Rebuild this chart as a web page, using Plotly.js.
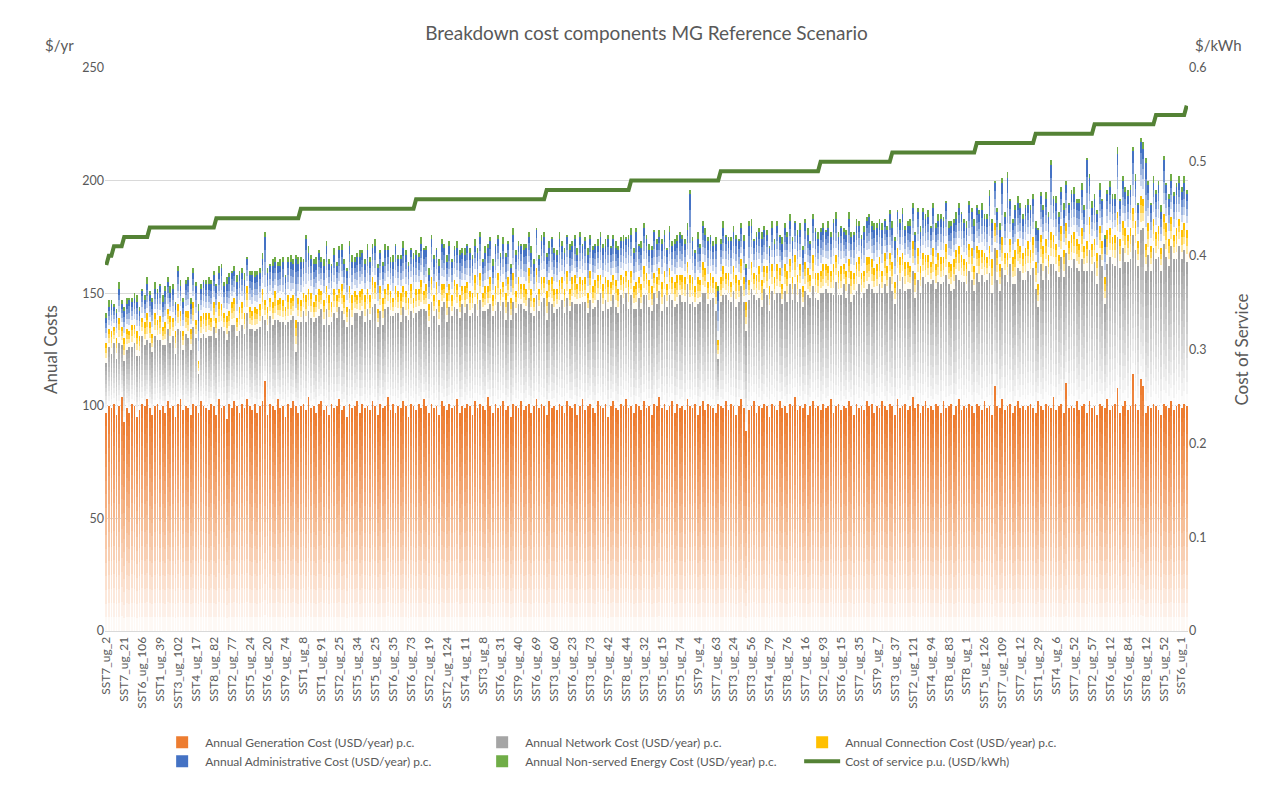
<!DOCTYPE html>
<html>
<head>
<meta charset="utf-8">
<script src="https://cdn.plot.ly/plotly-3.0.1.min.js"></script>
<style>html,body{margin:0;padding:0;background:#fff;}#chart{width:1273px;height:788px;}</style>
</head>
<body>
<div id="chart"></div>
<script>
// Tick labels shown on the category axis (every 7th category)
const tickLabels = ["SST7_ug_2","SST7_ug_21","SST6_ug_106","SST1_ug_39","SST3_ug_102","SST4_ug_17","SST8_ug_82","SST2_ug_77","SST5_ug_24","SST6_ug_20","SST9_ug_74","SST1_ug_8","SST1_ug_91","SST2_ug_25","SST5_ug_34","SST5_ug_25","SST6_ug_35","SST6_ug_73","SST2_ug_19",
"SST2_ug_124","SST4_ug_11","SST3_ug_8","SST6_ug_31","SST9_ug_40","SST6_ug_69","SST3_ug_60","SST6_ug_23","SST3_ug_73","SST9_ug_42","SST8_ug_44","SST3_ug_32","SST5_ug_15","SST5_ug_74","SST9_ug_4","SST7_ug_63","SST3_ug_24","SST3_ug_56","SST4_ug_79","SST8_ug_76",
"SST7_ug_16","SST2_ug_93","SST6_ug_15","SST7_ug_35","SST9_ug_7","SST3_ug_37","SST2_ug_121","SST4_ug_94","SST8_ug_83","SST8_ug_1","SST5_ug_126","SST7_ug_109","SST7_ug_12","SST1_ug_29","SST4_ug_6","SST7_ug_52","SST2_ug_57","SST6_ug_12","SST6_ug_84","SST8_ug_12","SST5_ug_52","SST6_ug_1"];
const tickEvery = 7;

const generation = [
97,100,99,101,96,100,104,93,99,97,101,100,95,98,101,100,103,99,96,100,
101,98,100,97,102,99,100,95,101,103,98,100,99,96,101,100,97,102,100,99,
98,101,100,96,103,99,100,94,101,99,102,100,97,101,99,103,100,98,101,97,
100,102,111,96,101,100,98,103,99,100,95,101,99,102,100,97,100,101,98,104,
99,100,97,101,102,98,100,96,101,99,100,103,98,100,95,101,99,100,102,97,
101,99,100,98,102,100,96,101,99,100,104,98,101,97,100,99,102,100,95,101,
100,98,101,99,103,100,97,101,99,100,96,102,100,98,101,99,100,103,97,100,
99,101,100,96,102,99,101,100,98,104,100,97,101,99,100,102,98,100,95,101,
100,99,102,98,100,101,97,100,103,99,101,100,96,102,99,100,98,101,100,97,
102,100,99,101,96,100,103,98,100,101,99,97,102,100,99,101,95,100,102,99,
98,101,100,103,99,100,97,101,100,98,102,99,100,96,101,100,104,99,101,98,
100,102,97,101,99,100,98,103,100,99,101,96,100,102,98,101,100,99,97,101,
100,99,102,98,101,100,96,100,103,99,89,98,100,102,97,100,99,101,100,95,
101,100,98,102,99,100,97,101,100,104,98,100,99,101,96,100,102,99,100,98,
101,99,100,103,97,100,101,98,100,99,102,100,96,101,99,100,98,102,100,101,
97,100,99,102,100,98,101,100,96,103,99,100,101,98,100,104,99,101,97,100,
102,99,100,98,101,100,97,102,99,100,101,96,100,103,98,100,99,101,100,97,
101,100,98,102,99,100,96,109,100,99,103,98,100,101,97,100,102,99,100,98,
100,101,99,97,102,100,98,101,100,99,104,98,100,101,97,110,99,100,99,102,
98,100,101,97,102,99,100,96,101,100,99,103,98,100,101,108,97,100,102,98,
100,114,101,98,112,109,97,100,99,101,100,98,96,101,100,99,102,98,100,101,
99,101,100];

const network = [
22,26,24,27,25,28,23,27,26,29,25,28,27,24,30,27,26,29,28,31,
28,31,27,30,32,29,31,28,33,30,27,32,31,29,34,30,17,28,32,31,
33,30,35,34,31,36,33,35,32,37,34,31,36,35,33,38,34,36,32,37,
35,38,27,37,39,36,40,35,38,37,41,36,39,38,24,40,37,41,39,38,
40,37,42,39,41,38,43,40,36,42,39,41,44,38,40,42,37,41,39,43,
41,38,43,40,42,45,39,41,37,43,40,42,39,44,41,38,42,40,43,41,
39,43,41,44,40,42,38,45,41,43,40,42,46,39,43,41,44,40,42,45,
42,44,40,45,43,41,46,42,44,39,45,43,41,47,42,44,40,46,43,45,
41,46,43,45,42,47,44,40,46,43,45,48,42,44,46,41,45,43,47,44,
46,42,47,44,49,45,43,48,41,46,44,47,45,50,43,46,48,44,47,45,
43,48,45,47,44,49,46,42,48,45,47,50,44,46,49,45,47,43,48,46,
49,45,47,44,50,46,48,51,45,47,43,49,46,48,52,44,47,49,45,20,
46,50,47,49,45,51,48,46,50,47,44,49,52,47,50,48,45,51,49,47,
50,47,52,48,46,51,49,53,47,50,48,52,45,50,53,48,51,49,47,52,
49,53,50,47,52,55,48,51,54,49,52,46,53,50,55,48,52,50,54,51,
53,50,55,48,54,52,56,51,49,55,53,57,50,54,52,56,49,55,53,57,
52,56,54,58,51,55,57,53,59,54,50,56,58,53,57,55,52,59,56,54,
58,55,60,53,57,59,54,61,56,52,58,60,55,62,57,54,59,61,56,58,
60,57,62,55,42,63,58,61,56,64,59,62,57,65,60,58,63,61,66,59,
62,65,59,63,67,61,64,58,66,62,46,60,68,63,61,67,64,70,62,66,
65,62,68,64,66,70,63,67,61,69,65,68,64,71,66,63,69,67,65,70,
66,68,64];

const connection = [
9,8,10,7,9,11,8,10,9,7,10,8,11,9,8,10,12,9,8,10,
9,11,8,10,9,12,8,10,11,9,8,10,12,9,11,8,6,10,9,11,
10,8,11,9,12,10,8,11,9,10,12,8,11,10,9,12,10,8,11,9,
10,12,9,11,8,10,13,9,11,10,8,12,10,9,14,11,10,8,12,10,
11,9,10,12,8,11,10,13,9,11,10,8,12,11,9,10,13,10,8,11,
10,12,9,11,13,10,8,11,12,9,10,11,8,12,10,13,9,11,10,12,
9,11,10,13,8,12,10,11,9,12,11,10,8,13,10,9,12,11,10,8,
12,10,11,9,13,10,12,8,11,10,12,9,11,13,10,9,12,11,10,13,
10,12,9,11,10,13,11,8,12,10,11,9,13,10,12,11,9,12,10,11,
12,10,11,13,9,12,10,11,9,13,10,12,11,8,12,10,13,11,9,12,
11,9,12,10,13,11,10,12,9,11,13,10,12,11,9,12,10,13,11,10,
12,10,11,13,9,12,11,10,13,11,9,12,10,14,11,10,12,9,13,8,
11,13,10,12,9,11,14,10,12,11,13,9,12,10,11,14,12,10,13,11,
12,10,13,11,9,12,14,11,10,13,12,11,9,13,12,10,14,11,12,10,
13,11,12,10,14,12,11,13,9,12,11,14,10,13,12,11,10,14,12,13,
11,13,12,10,14,12,11,13,10,12,14,11,13,12,10,13,11,14,12,11,
13,12,10,14,11,13,12,11,14,10,12,13,11,15,12,10,13,12,14,11,
12,14,11,13,10,12,15,11,13,12,14,10,13,11,12,15,13,11,12,14,
13,11,14,12,10,13,15,12,11,14,13,12,10,14,12,13,11,15,12,13,
12,14,11,13,15,12,10,14,13,11,12,15,13,12,14,11,13,12,15,12,
14,12,13,11,15,13,12,14,11,13,12,14,10,13,15,12,13,11,14,12,
13,12,14];

const administrative = [
11,10,12,9,11,13,10,12,11,14,10,12,13,11,12,10,13,12,14,11,
12,13,11,14,12,10,13,12,15,11,13,12,14,11,13,15,22,12,14,13,
13,15,12,14,13,16,12,14,15,13,12,16,14,13,15,12,14,16,13,15,
14,13,28,15,14,16,13,15,14,17,13,15,16,14,27,15,17,14,25,16,
15,17,14,16,13,15,18,14,16,15,13,17,15,14,16,18,15,13,17,15,
16,14,17,15,13,16,18,15,14,17,15,13,16,18,14,15,17,16,14,15,
17,15,14,16,18,15,13,17,16,14,15,18,16,14,17,15,13,16,18,15,
14,16,17,15,13,18,16,14,15,17,16,13,18,15,14,17,16,15,13,17,
16,14,17,15,18,14,16,15,17,13,16,18,15,14,17,16,15,18,14,16,
15,17,14,16,13,18,15,16,17,14,16,15,13,17,16,14,18,15,16,14,
17,15,16,14,18,16,15,22,14,16,17,15,13,16,18,15,14,17,16,15,
16,14,17,15,18,16,15,14,36,16,15,17,14,16,15,18,16,14,17,22,
15,17,16,14,18,15,16,17,14,16,15,24,16,14,17,15,18,16,14,17,
16,15,17,14,18,16,15,17,16,14,18,15,16,17,15,14,16,18,15,17,
16,14,17,15,18,16,15,17,14,16,18,15,17,16,14,15,17,16,18,15,
17,16,15,18,14,16,17,15,18,16,15,17,14,16,18,15,17,16,15,18,
16,17,15,18,16,14,17,16,18,15,17,16,14,17,18,16,15,17,16,18,
17,16,18,15,17,22,16,18,17,15,24,16,33,17,15,18,16,17,15,18,
16,18,17,15,24,17,16,18,17,30,16,18,17,15,18,17,16,18,17,16,
18,17,16,36,17,16,18,17,16,18,17,16,18,17,16,26,17,18,16,17,
17,25,18,16,24,22,36,17,18,16,17,18,16,24,17,18,16,17,18,16,
17,18,16];

const nonServed = [
2,3,2,1,2,3,2,2,3,1,2,2,3,2,1,2,3,2,2,3,
2,1,3,2,2,3,2,1,2,3,2,2,1,3,2,2,3,2,1,2,
3,2,2,1,3,2,2,3,2,1,2,3,2,2,3,1,2,2,3,2,
2,3,2,2,1,3,2,2,3,2,1,2,3,2,2,3,2,1,2,3,
2,2,3,1,2,3,2,2,1,3,2,2,3,2,1,2,3,2,2,3,
1,2,3,2,2,3,2,1,2,3,2,2,3,1,2,2,3,2,2,1,
3,2,2,3,1,2,3,2,2,1,3,2,2,3,2,1,2,3,2,2,
3,1,2,2,3,2,2,1,3,2,2,3,1,2,2,3,2,1,2,3,
2,2,1,3,2,2,3,2,1,2,3,2,2,3,1,2,2,3,2,2,
1,3,2,2,3,2,1,2,3,2,2,1,3,2,2,3,2,1,2,3,
2,2,3,1,2,3,2,2,1,3,2,2,3,2,1,2,3,2,2,1,
3,2,2,3,1,2,2,3,2,2,1,3,2,2,3,2,1,2,3,2,
2,3,1,2,2,3,2,1,2,3,2,2,3,1,2,2,3,2,2,1,
3,2,2,1,3,2,2,3,2,1,2,3,2,2,3,1,2,2,3,2,
2,1,3,2,2,3,2,1,2,2,3,2,1,3,2,2,3,2,1,2,
3,2,2,3,1,2,2,3,2,1,2,3,2,2,3,2,1,2,3,2,
2,3,1,2,2,3,2,2,1,3,2,2,3,2,1,2,3,2,2,3,
1,2,3,2,2,3,2,1,2,3,2,2,3,1,2,2,3,2,2,1,
3,2,2,3,1,2,2,3,2,2,1,3,2,2,3,2,1,2,3,2,
2,3,2,1,2,3,2,2,3,1,2,2,3,2,2,3,1,2,2,3,
2,2,3,1,2,3,2,2,1,3,2,2,3,2,1,2,3,2,2,3,
2,3,2];

const costOfService = [
0.39,
0.40,0.40,
0.41,0.41,0.41,0.41,
0.42,0.42,0.42,0.42,0.42,0.42,0.42,0.42,0.42,0.42,
0.43,0.43,0.43,0.43,0.43,0.43,0.43,0.43,0.43,0.43,0.43,0.43,0.43,0.43,0.43,0.43,0.43,0.43,0.43,0.43,0.43,0.43,0.43,0.43,0.43,0.43,
0.44,0.44,0.44,0.44,0.44,0.44,0.44,0.44,0.44,0.44,0.44,0.44,0.44,0.44,0.44,0.44,0.44,0.44,0.44,0.44,0.44,0.44,0.44,0.44,0.44,0.44,0.44,0.44,0.44,0.44,0.44,0.44,0.44,
0.45,0.45,0.45,0.45,0.45,0.45,0.45,0.45,0.45,0.45,0.45,0.45,0.45,0.45,0.45,0.45,0.45,0.45,0.45,0.45,0.45,0.45,0.45,0.45,0.45,0.45,0.45,0.45,0.45,0.45,0.45,0.45,0.45,0.45,0.45,0.45,0.45,0.45,0.45,0.45,0.45,0.45,0.45,0.45,0.45,
0.46,0.46,0.46,0.46,0.46,0.46,0.46,0.46,0.46,0.46,0.46,0.46,0.46,0.46,0.46,0.46,0.46,0.46,0.46,0.46,0.46,0.46,0.46,0.46,0.46,0.46,0.46,0.46,0.46,0.46,0.46,0.46,0.46,0.46,0.46,0.46,0.46,0.46,0.46,0.46,0.46,0.46,0.46,0.46,0.46,0.46,0.46,0.46,0.46,0.46,0.46,
0.47,0.47,0.47,0.47,0.47,0.47,0.47,0.47,0.47,0.47,0.47,0.47,0.47,0.47,0.47,0.47,0.47,0.47,0.47,0.47,0.47,0.47,0.47,0.47,0.47,0.47,0.47,0.47,0.47,0.47,0.47,0.47,0.47,
0.48,0.48,0.48,0.48,0.48,0.48,0.48,0.48,0.48,0.48,0.48,0.48,0.48,0.48,0.48,0.48,0.48,0.48,0.48,0.48,0.48,0.48,0.48,0.48,0.48,0.48,0.48,0.48,0.48,0.48,0.48,0.48,0.48,0.48,0.48,
0.49,0.49,0.49,0.49,0.49,0.49,0.49,0.49,0.49,0.49,0.49,0.49,0.49,0.49,0.49,0.49,0.49,0.49,0.49,0.49,0.49,0.49,0.49,0.49,0.49,0.49,0.49,0.49,0.49,0.49,0.49,0.49,0.49,0.49,0.49,0.49,0.49,0.49,0.49,
0.50,0.50,0.50,0.50,0.50,0.50,0.50,0.50,0.50,0.50,0.50,0.50,0.50,0.50,0.50,0.50,0.50,0.50,0.50,0.50,0.50,0.50,0.50,0.50,0.50,0.50,0.50,0.50,
0.51,0.51,0.51,0.51,0.51,0.51,0.51,0.51,0.51,0.51,0.51,0.51,0.51,0.51,0.51,0.51,0.51,0.51,0.51,0.51,0.51,0.51,0.51,0.51,0.51,0.51,0.51,0.51,0.51,0.51,0.51,0.51,0.51,
0.52,0.52,0.52,0.52,0.52,0.52,0.52,0.52,0.52,0.52,0.52,0.52,0.52,0.52,0.52,0.52,0.52,0.52,0.52,0.52,0.52,0.52,0.52,
0.53,0.53,0.53,0.53,0.53,0.53,0.53,0.53,0.53,0.53,0.53,0.53,0.53,0.53,0.53,0.53,0.53,0.53,0.53,0.53,0.53,0.53,0.53,
0.54,0.54,0.54,0.54,0.54,0.54,0.54,0.54,0.54,0.54,0.54,0.54,0.54,0.54,0.54,0.54,0.54,0.54,0.54,0.54,0.54,0.54,0.54,0.54,
0.55,0.55,0.55,0.55,0.55,0.55,0.55,0.55,0.55,0.55,0.55,0.55,
0.56];

const seriesNames = [
  "Annual Generation Cost (USD/year) p.c.",
  "Annual Network Cost (USD/year) p.c.",
  "Annual Connection Cost (USD/year) p.c.",
  "Annual Administrative Cost (USD/year) p.c.",
  "Annual Non-served Energy Cost (USD/year) p.c.",
  "Cost of service p.u. (USD/kWh)"
];

// ---- drawing ----
const n = generation.length;
const xIdx = generation.map((_, i) => i);

function mix(hex, f) {
  const r = parseInt(hex.slice(1,3),16), g = parseInt(hex.slice(3,5),16), b = parseInt(hex.slice(5,7),16);
  const m = c => Math.round(255 + (c - 255) * f);
  return `rgb(${m(r)},${m(g)},${m(b)})`;
}

// each bar segment drawn with a white-to-colour vertical gradient (split into bands)
function gradientBars(name, vals, color, K) {
  const out = [];
  for (let k = 0; k < K; k++) {
    const f = K === 1 ? 1 : 0.05 + 0.95 * k / (K - 1);
    out.push({
      type: 'bar', x: xIdx, y: vals.map(v => v / K),
      name: name, legendgroup: name, showlegend: k === K - 1,
      marker: { color: k === K - 1 ? color : mix(color, f), line: { width: 0 } },
      hoverinfo: 'skip'
    });
  }
  return out;
}

const traces = [].concat(
  gradientBars(seriesNames[0], generation, '#ED7D31', 16),
  gradientBars(seriesNames[1], network, '#A5A5A5', 12),
  gradientBars(seriesNames[2], connection, '#FFC000', 4),
  gradientBars(seriesNames[3], administrative, '#4472C4', 5),
  gradientBars(seriesNames[4], nonServed, '#70AD47', 1),
  [{
    type: 'scatter', mode: 'lines', x: xIdx, y: costOfService, yaxis: 'y2',
    name: seriesNames[5], line: { color: '#548235', width: 4 }
  }]
);

const font = 'Lato, "Open Sans", sans-serif';
const grey = '#595959';

const layout = {
  width: 1273, height: 788,
  margin: { l: 105, r: 85, t: 68, b: 157 },
  paper_bgcolor: '#fff', plot_bgcolor: '#fff',
  font: { family: font, color: grey, size: 12 },
  barmode: 'stack', bargap: 0.3,
  title: { text: 'Breakdown cost components MG Reference Scenario', x: 0.5, xref: 'paper', xanchor: 'center', y: 0.958, yanchor: 'middle',
           font: { family: font, size: 19, color: grey } },
  xaxis: {
    range: [-0.5, n - 0.5], tickmode: 'array',
    tickvals: tickLabels.map((_, i) => i * tickEvery), ticktext: tickLabels,
    tickangle: -90, tickfont: { size: 12, color: grey, family: font },
    showgrid: false, zeroline: false, showline: true, linecolor: '#d9d9d9', ticks: '',
    automargin: false
  },
  yaxis: {
    range: [0, 250], dtick: 50, gridcolor: '#d9d9d9', zeroline: false, ticks: '',
    tickfont: { size: 12.5, color: grey }, automargin: false,
    title: { text: 'Anual Costs', font: { size: 17, color: grey }, standoff: 20 }
  },
  yaxis2: {
    overlaying: 'y', side: 'right', range: [0, 0.6], dtick: 0.1, showgrid: false, zeroline: false, ticks: '',
    tickfont: { size: 12.5, color: grey }, automargin: false,
    title: { text: 'Cost of Service', font: { size: 17, color: grey }, standoff: 30 }
  },
  legend: {
    orientation: 'h', x: 0.05, xanchor: 'left', y: -0.172, yanchor: 'top',
    traceorder: 'normal', entrywidth: 269, entrywidthmode: 'pixels',
    font: { size: 12, color: grey, family: font }, itemwidth: 36
  },
  annotations: [
    { text: '$/yr', xref: 'paper', yref: 'paper', x: -0.042, y: 1.041, showarrow: false, xanchor: 'center', yanchor: 'middle', font: { size: 15, color: grey } },
    { text: '$/kWh', xref: 'paper', yref: 'paper', x: 1.028, y: 1.041, showarrow: false, xanchor: 'center', yanchor: 'middle', font: { size: 15, color: grey } }
  ]
};

Plotly.newPlot('chart', traces, layout, { displayModeBar: false, staticPlot: true });
</script>
</body>
</html>
